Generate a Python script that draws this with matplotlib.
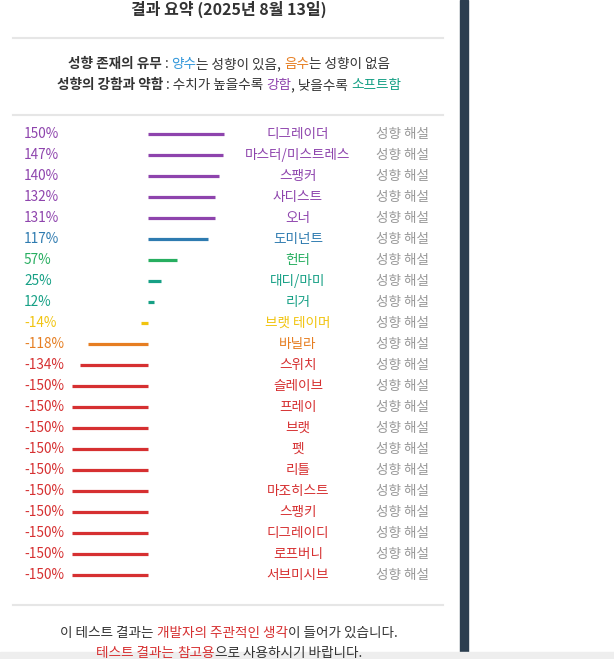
import matplotlib
matplotlib.use("Agg")
import matplotlib.pyplot as plt
from matplotlib.transforms import blended_transform_factory

plt.rcParams['font.family'] = ['Noto Sans CJK KR', 'DejaVu Sans']

names = ["디그레이더", "마스터/미스트레스", "스팽커", "사디스트", "오너", "도미넌트", "헌터", "대디/마미", "리거",
         "브랫 테이머", "바닐라", "스위치", "슬레이브", "프레이", "브랫", "펫", "리틀", "마조히스트", "스팽키",
         "디그레이디", "로프버니", "서브미시브"]
values = [150, 147, 140, 132, 131, 117, 57, 25, 12, -14, -118, -134, -150, -150, -150, -150, -150, -150,
          -150, -150, -150, -150]
colors = ["#8e44ad"] * 5 + ["#2e7bb0", "#27ae60", "#16a085", "#16a085", "#f1c40f", "#e67e22"] + ["#d63031"] * 11

W, H = 614, 659
fig = plt.figure(figsize=(W / 100, H / 100), dpi=100)
fig.patch.set_facecolor("white")

def fx(px): return px / W
def fy(py): return 1 - py / H

fig.patches.append(plt.Rectangle((fx(460), 0), fx(8), 1, transform=fig.transFigure, color="#2c3e50"))
fig.patches.append(plt.Rectangle((0, 0), 1, 7 / H, transform=fig.transFigure, color="#eeeeee"))
for y in [38, 115, 605]:
    fig.add_artist(plt.Line2D([fx(13), fx(443)], [fy(y), fy(y)], color="#e6e6e6", lw=1.5))

fig.text(fx(229), fy(9), "결과 요약 (2025년 8월 13일)", ha="center", va="center", fontsize=11.5,
         fontweight="bold", color="#333333")

fig.canvas.draw()
renderer = fig.canvas.get_renderer()

def multi(segs, cx, py, size=9.8):
    ts = []
    for s, c, b in segs:
        t = fig.text(0, fy(py), s, color=c, fontsize=size, fontweight="bold" if b else "normal",
                     ha="left", va="center")
        ts.append(t)
    widths = [t.get_window_extent(renderer).width for t in ts]
    x = cx - sum(widths) / 2
    for t, w in zip(ts, widths):
        t.set_x(fx(x))
        x += w

dark = "#333333"
multi([("성향 존재의 유무", dark, True), (" : ", dark, False), ("양수", "#3498db", False),
       ("는 성향이 있음, ", dark, False), ("음수", "#e67e22", False), ("는 성향이 없음", dark, False)], 229, 64)
multi([("성향의 강함과 약함", dark, True), (" : 수치가 높을수록 ", dark, False), ("강함", "#8e44ad", False),
       (", 낮을수록 ", dark, False), ("소프트함", "#16a085", False)], 229, 85)
multi([("이 테스트 결과는 ", dark, False), ("개발자의 주관적인 생각", "#d63031", False),
       ("이 들어가 있습니다.", dark, False)], 229, 633)
multi([("테스트 결과는 ", "#d63031", False), ("참고용", "#d63031", False),
       ("으로 사용하시기 바랍니다.", dark, False)], 229, 653)

n = len(values)
ax = fig.add_axes([fx(70), fy(585.5), fx(226 - 70), (585.5 - 123.5) / H])
ax.set_xlim(-150, 150)
ax.set_ylim(n - 0.5, -0.5)
ax.axis("off")
for i, (v, c) in enumerate(zip(values, colors)):
    ax.hlines(i, 0, v * 0.98, color=c, lw=2.3)

tr = blended_transform_factory(fig.transFigure, ax.transData)
for i, (nm, v, c) in enumerate(zip(names, values, colors)):
    ax.text(fx(24), i, f"{v}%", color=c, fontsize=9.8, ha="left", va="center", transform=tr)
    ax.text(fx(298), i, nm, color=c, fontsize=9.8, ha="center", va="center", transform=tr)
    ax.text(fx(403), i, "성향 해설", color="#999999", fontsize=9.8, ha="center", va="center", transform=tr)

fig.savefig("out.png", dpi=100, facecolor="white")
